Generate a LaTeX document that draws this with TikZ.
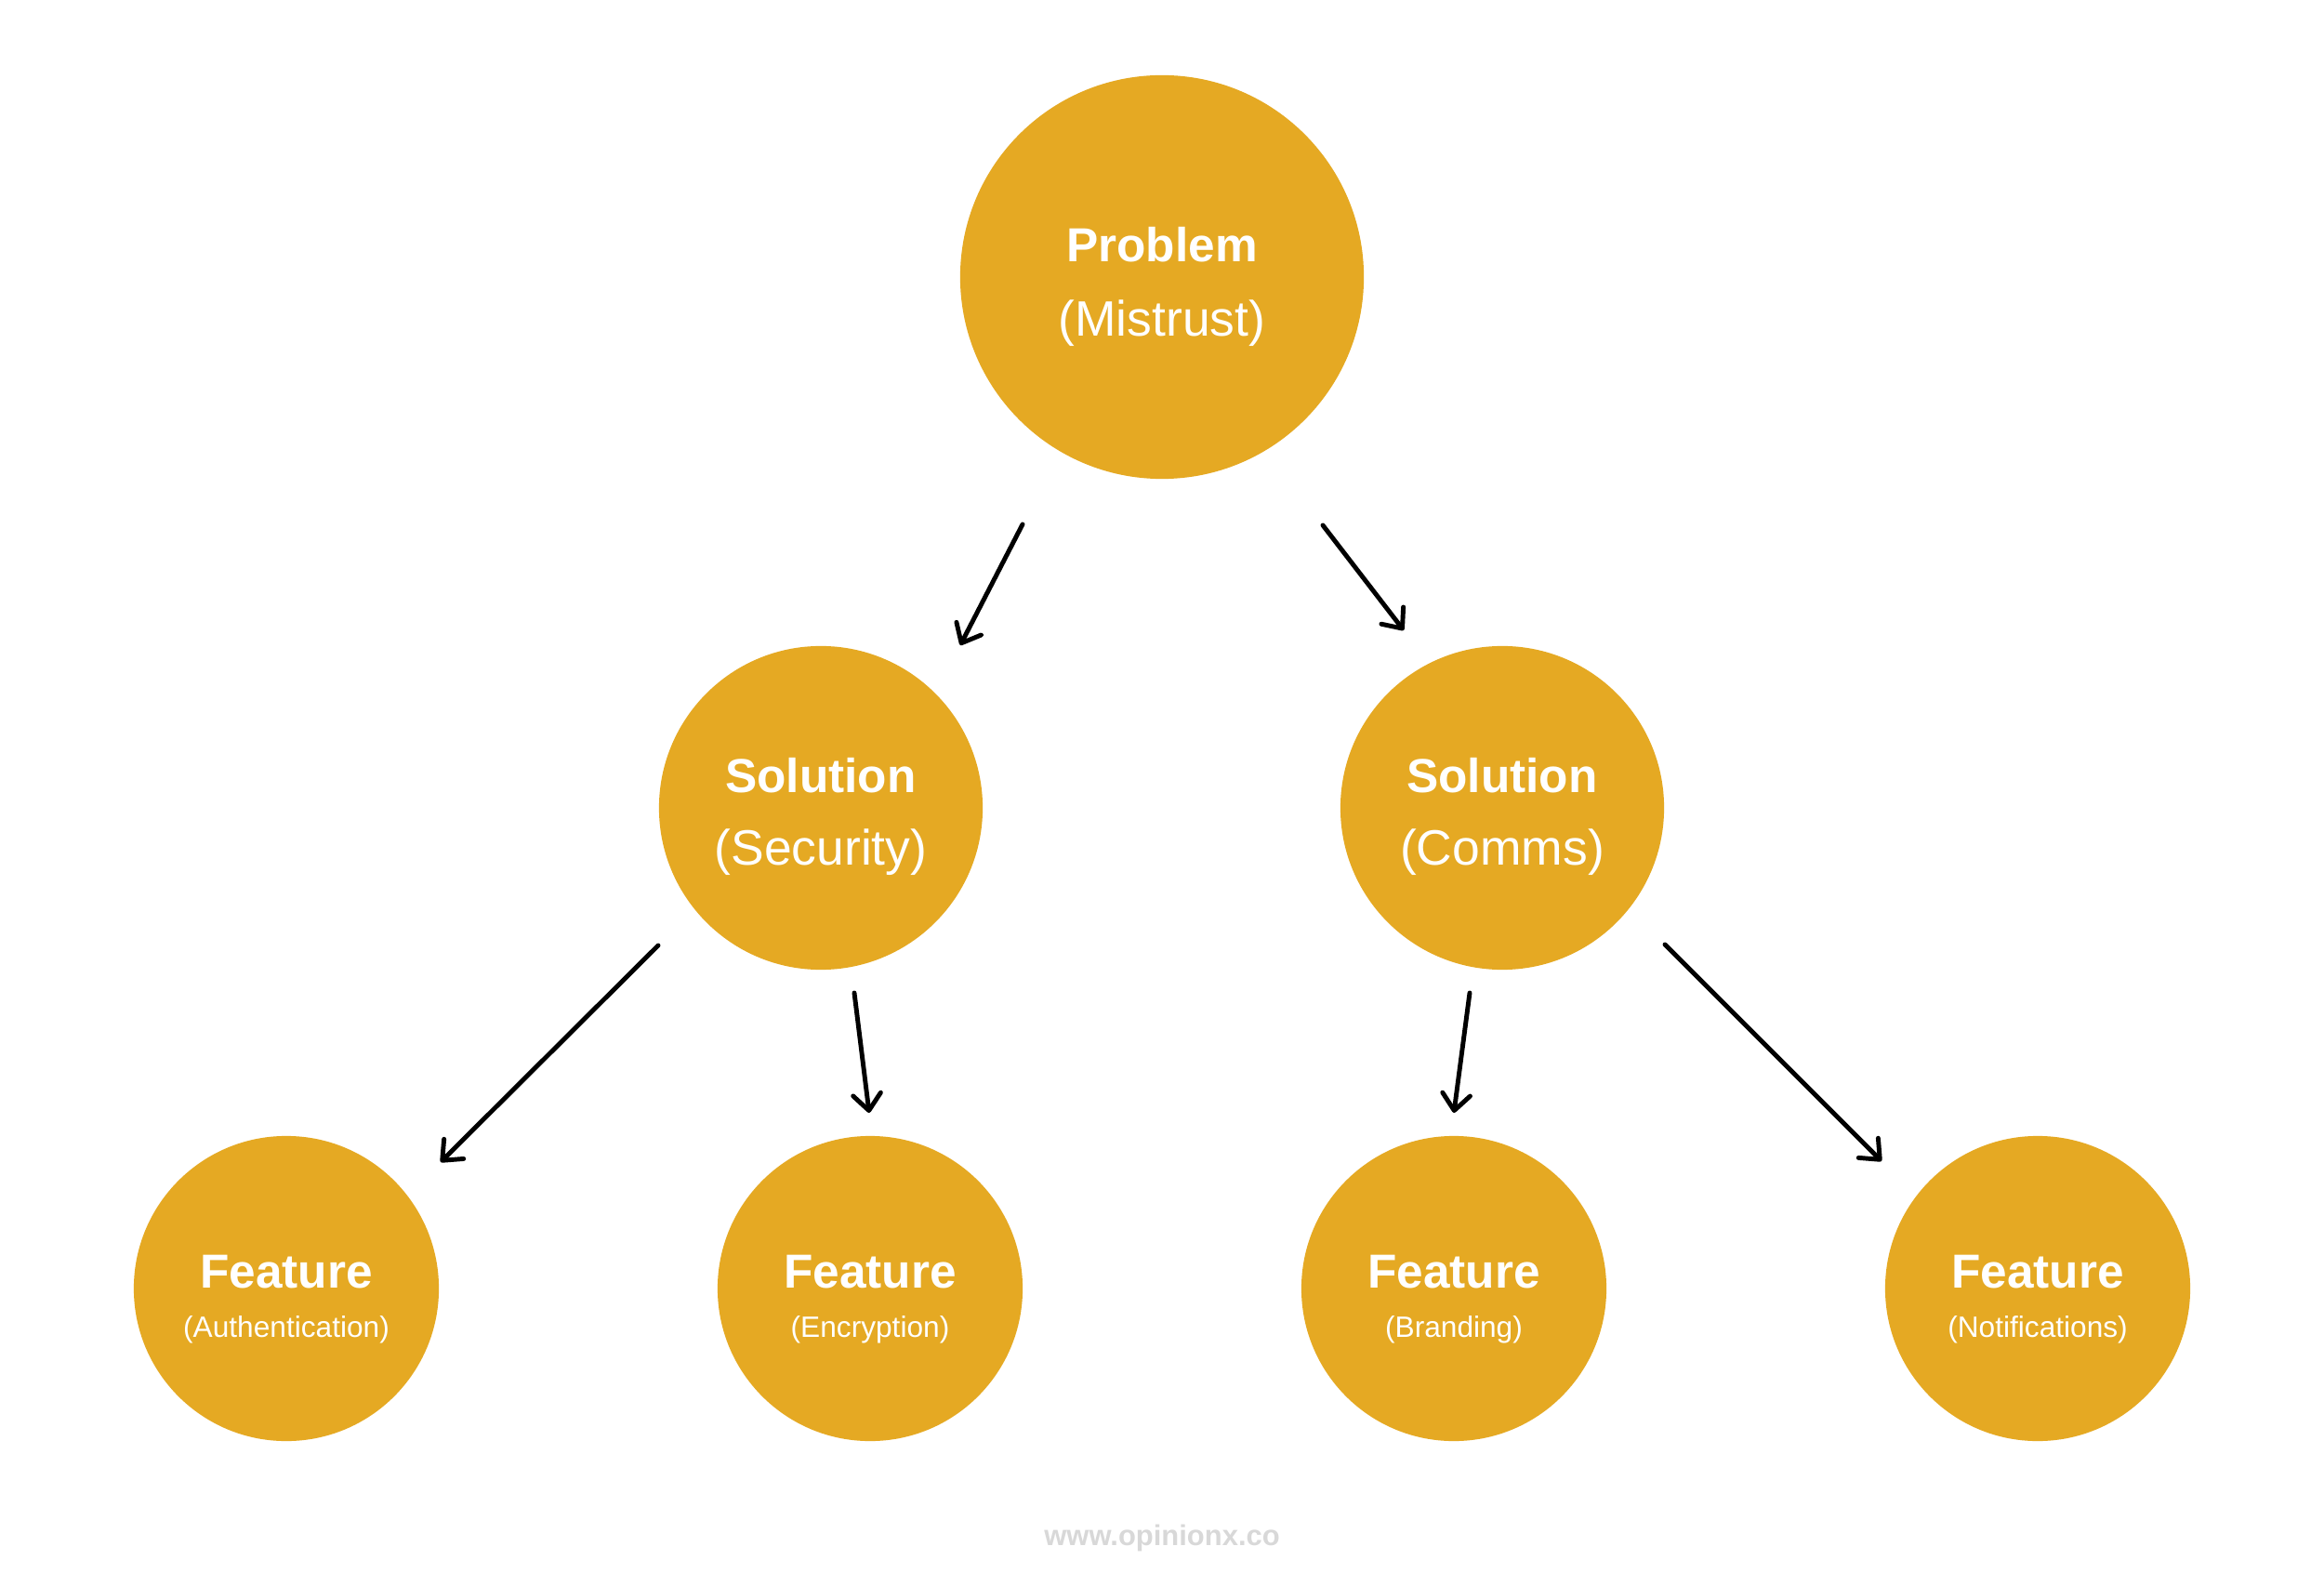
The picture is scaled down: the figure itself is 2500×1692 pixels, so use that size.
\documentclass[tikz,border=0pt]{standalone}
\usepackage{fontspec}
\setmainfont{Liberation Sans}
\usetikzlibrary{arrows.meta}
\definecolor{gold}{HTML}{E5A923}
\definecolor{wm}{HTML}{D8D8D8}
\tikzset{
  bubble/.style={circle, fill=gold, draw=none, inner sep=0pt},
  big/.style={bubble, minimum size=4.34cm},
  mid/.style={bubble, minimum size=3.48cm},
  small/.style={bubble, minimum size=3.28cm},
  ttl/.style={anchor=base, text=white, inner sep=0pt, font=\fontsize{14.6pt}{17pt}\selectfont\bfseries},
  sub/.style={anchor=base, text=white, inner sep=0pt, font=\fontsize{15.2pt}{18pt}\selectfont},
  subs/.style={anchor=base, text=white, inner sep=0pt, font=\fontsize{9pt}{11pt}\selectfont},
  link/.style={line width=1.4pt, line cap=round, line join=round, -{Straight Barb[length=5pt,width=8.5pt,line cap=round,line join=round]}},
}
\begin{document}
\begin{tikzpicture}[x=0.01cm, y=-0.01cm]
\useasboundingbox[fill=white] (0,0) rectangle (2500,1692);
% circles
\node[big] (p) at (1250,298) {};
\node[mid] (s1) at (883,869) {};
\node[mid] (s2) at (1616,869) {};
\node[small] (f1) at (308,1386) {};
\node[small] (f2) at (936,1386) {};
\node[small] (f3) at (1564,1386) {};
\node[small] (f4) at (2192,1386) {};
% texts
\node[ttl] (pt) at (1250,282) {Problem};
\node[sub] (ps) at (1250,362) {(Mistrust)};
\node[ttl] (s1t) at (883,853) {Solution};
\node[sub] (s1s) at (883,930) {(Security)};
\node[ttl] (s2t) at (1616,853) {Solution};
\node[sub] (s2s) at (1616,930) {(Comms)};
\node[ttl] (f1t) at (308,1385) {Feature};
\node[subs] (f1s) at (308,1438) {(Authentication)};
\node[ttl] (f2t) at (936,1385) {Feature};
\node[subs] (f2s) at (936,1438) {(Encryption)};
\node[ttl] (f3t) at (1564,1385) {Feature};
\node[subs] (f3s) at (1564,1438) {(Branding)};
\node[ttl] (f4t) at (2192,1385) {Feature};
\node[subs] (f4s) at (2192,1438) {(Notifications)};
% arrow end points
\coordinate (a1s) at (1100,564); \coordinate (a1e) at (1033,694);
\coordinate (a2s) at (1423,565); \coordinate (a2e) at (1510,678);
\coordinate (a3s) at (708,1017); \coordinate (a3e) at (474,1250);
\coordinate (a4s) at (919,1068); \coordinate (a4e) at (935,1197);
\coordinate (a5s) at (1581,1068); \coordinate (a5e) at (1564,1197);
\coordinate (a6s) at (1791,1016); \coordinate (a6e) at (2024,1249);
\draw[link] (a1s) -- (a1e);
\draw[link] (a2s) -- (a2e);
\draw[link] (a3s) -- (a3e);
\draw[link] (a4s) -- (a4e);
\draw[link] (a5s) -- (a5e);
\draw[link] (a6s) -- (a6e);
% watermark
\node[anchor=base, text=wm, inner sep=0pt, font=\fontsize{8.8pt}{10pt}\selectfont\bfseries] (wmk) at (1250,1662) {www.opinionx.co};
\end{tikzpicture}
\end{document}
